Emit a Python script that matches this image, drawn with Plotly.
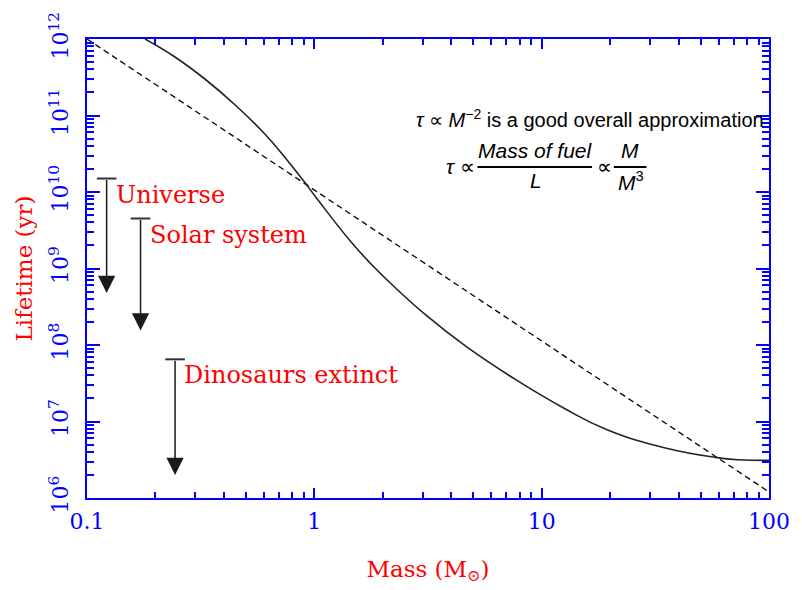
import numpy as np
import plotly.graph_objects as go

# Stellar main-sequence lifetime vs mass
mass = [0.18, 0.24, 0.33, 0.45, 0.61, 0.76, 0.90, 1.03, 1.43, 1.75,
        2.23, 3.1, 4.6, 7.6, 12.6, 19.4, 35.0, 58.0, 74.0, 100.0]
lifetime = [1.0e12, 6.0e11, 3.0e11, 1.36e11, 5.6e10, 2.6e10, 1.38e10, 8.1e9,
            2.34e9, 1.2e9, 5.9e8, 2.45e8, 9.8e7, 3.6e7, 1.48e7,
            7.8e6, 4.5e6, 3.4e6, 3.16e6, 3.1e6]

# tau ~ M^-2 approximation
approx_mass = [0.1, 100.0]
approx_lifetime = [1.0e12, 1.2e6]

# Reference timescales: (label, mass position, age, arrow end)
event_labels = ["Universe", "Solar system", "Dinosaurs extinct"]
event_mass = [0.122, 0.172, 0.244]
event_age = [1.5e10, 4.5e9, 6.5e7]
event_arrow_end = [4.8e8, 1.55e8, 2.0e6]

x_tickvals = [0.1, 1, 10, 100]
x_ticktext = ["0.1", "1", "10", "100"]
y_tickvals = [1e6, 1e7, 1e8, 1e9, 1e10, 1e11, 1e12]
y_ticktext = ["10<sup>6</sup>", "10<sup>7</sup>", "10<sup>8</sup>", "10<sup>9</sup>",
              "10<sup>10</sup>", "10<sup>11</sup>", "10<sup>12</sup>"]

x_minor = [m * 10.0 ** e for e in range(-1, 2) for m in range(2, 10)]
y_minor = [m * 10.0 ** e for e in range(6, 12) for m in range(2, 10)]

BLUE = "#0000ff"
RED = "#ff0000"
SERIF = "DejaVu Serif"
SANS = "Liberation Sans, Arial, sans-serif"

fig = go.Figure()

fig.add_trace(go.Scatter(x=approx_mass, y=approx_lifetime, mode="lines",
                         line=dict(color="black", width=1.3, dash="6px,4px"),
                         hoverinfo="skip", showlegend=False))
fig.add_trace(go.Scatter(x=mass, y=lifetime, mode="lines",
                         line=dict(color="#222222", width=1.6, shape="spline",
                                   smoothing=1.3),
                         showlegend=False))

# Caps at the top of each timescale arrow
fig.add_trace(go.Scatter(x=event_mass, y=event_age, mode="markers",
                         marker=dict(symbol="line-ew", size=14,
                                     line=dict(color="#333333", width=2)),
                         hoverinfo="skip", showlegend=False))

for lab, m, age, end in zip(event_labels, event_mass, event_age, event_arrow_end):
    fig.add_annotation(x=np.log10(m), y=np.log10(end), ax=np.log10(m), ay=np.log10(age),
                       xref="x", yref="y", axref="x", ayref="y",
                       text="", showarrow=True, arrowhead=2, arrowsize=2.3,
                       arrowwidth=1.5, arrowcolor="#1a1a1a", standoff=0)
    fig.add_annotation(x=np.log10(m), y=np.log10(age), xref="x", yref="y",
                       text=lab, showarrow=False, xanchor="left", yanchor="middle",
                       xshift=7, yshift=-16,
                       font=dict(family=SERIF, size=24, color=RED))

# Approximation text and fraction
def px_x(p):
    return (p - 87) / 690.0

def px_y(p):
    return (497.7 - p) / 460.0

txt_font = dict(family=SANS, size=20, color="black")
frac_font = dict(family=SANS, size=21, color="black")
fig.add_annotation(x=px_x(774), y=px_y(117), xref="paper", yref="paper",
                   text="<i>τ</i> ∝ <i>M</i><sup>−2</sup> is a good overall approximation",
                   showarrow=False, xanchor="right", yanchor="middle", font=txt_font)
fig.add_annotation(x=px_x(482), y=px_y(165), xref="paper", yref="paper",
                   text="<i>τ</i> ∝", showarrow=False, xanchor="right",
                   yanchor="middle", font=frac_font)
fig.add_annotation(x=px_x(541), y=px_y(149), xref="paper", yref="paper",
                   text="<i>Mass of fuel</i>", showarrow=False, xanchor="center",
                   yanchor="middle", font=frac_font)
fig.add_annotation(x=px_x(541), y=px_y(180), xref="paper", yref="paper",
                   text="<i>L</i>", showarrow=False, xanchor="center",
                   yanchor="middle", font=frac_font)
fig.add_annotation(x=px_x(611), y=px_y(165), xref="paper", yref="paper",
                   text="∝", showarrow=False, xanchor="center",
                   yanchor="middle", font=frac_font)
fig.add_annotation(x=px_x(636), y=px_y(149), xref="paper", yref="paper",
                   text="<i>M</i>", showarrow=False, xanchor="center",
                   yanchor="middle", font=frac_font)
fig.add_annotation(x=px_x(622), y=px_y(180), xref="paper", yref="paper",
                   text="<i>M</i><sup>3</sup>", showarrow=False, xanchor="left",
                   yanchor="middle", font=frac_font)
for x0, x1 in [(482, 598), (620, 653)]:
    fig.add_shape(type="line", xref="paper", yref="paper",
                  x0=px_x(x0), x1=px_x(x1), y0=px_y(166), y1=px_y(166),
                  line=dict(color="black", width=2))

axis_common = dict(
    type="log", showgrid=False, zeroline=False,
    showline=True, linecolor=BLUE, linewidth=2, mirror="allticks",
    ticks="inside", tickcolor=BLUE, tickwidth=2,
    tickfont=dict(family=SERIF, size=22, color=BLUE),
)

fig.update_xaxes(**axis_common, range=[-1, 2], tickmode="array",
                 tickvals=x_tickvals, ticktext=x_ticktext, ticklen=10,
                 ticklabelstandoff=3,
                 minor=dict(ticks="inside", ticklen=6, tickwidth=2, tickcolor=BLUE,
                            tickmode="array", tickvals=x_minor, showgrid=False),
                 title=dict(text="Mass (M<sub>⊙</sub>)", standoff=27,
                            font=dict(family=SERIF, size=23, color=RED)))
fig.update_yaxes(**axis_common, range=[6, 12], tickmode="array",
                 tickvals=y_tickvals, ticktext=y_ticktext, ticklen=13,
                 tickangle=-90, ticklabelstandoff=8,
                 minor=dict(ticks="inside", ticklen=7, tickwidth=2, tickcolor=BLUE,
                            tickmode="array", tickvals=y_minor, showgrid=False),
                 title=dict(text="Lifetime (yr)", standoff=6,
                            font=dict(family=SERIF, size=23, color=RED)))

fig.update_layout(width=802, height=590,
                  margin=dict(l=87, r=25, t=38, b=92),
                  paper_bgcolor="white", plot_bgcolor="white")

fig.write_html("out.html")
